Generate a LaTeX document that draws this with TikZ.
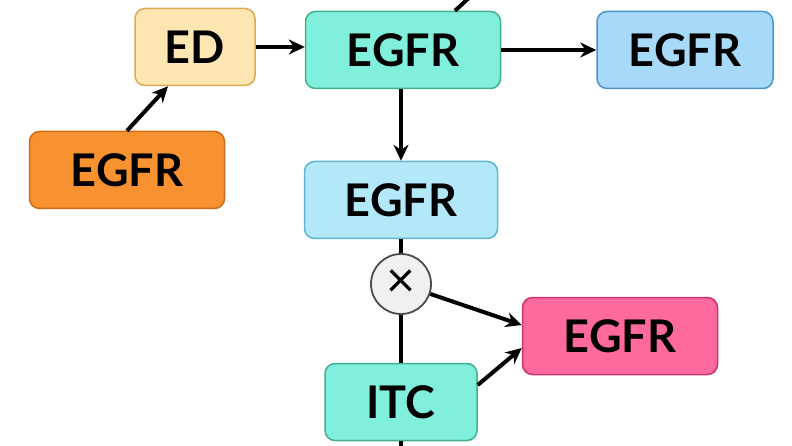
\documentclass[tikz,border=0pt]{standalone}
\usepackage{fontspec}
\setmainfont{Lato}
\usepackage{tikz}
\usetikzlibrary{calc,arrows.meta,positioning}
\definecolor{edfill}{HTML}{FDE6B2}
\definecolor{eddraw}{HTML}{E0A850}
\definecolor{orfill}{HTML}{F8912F}
\definecolor{ordraw}{HTML}{CF6A18}
\definecolor{tlfill}{HTML}{80F0DC}
\definecolor{tldraw}{HTML}{40B090}
\definecolor{blfill}{HTML}{A6DAF8}
\definecolor{bldraw}{HTML}{4C94CC}
\definecolor{lbfill}{HTML}{B2E8F8}
\definecolor{lbdraw}{HTML}{62B4D4}
\definecolor{pkfill}{HTML}{FF6A9E}
\definecolor{pkdraw}{HTML}{C63670}
\definecolor{opfill}{HTML}{F0F0F0}
\tikzset{
  ar/.style={-{Stealth[length=16pt,width=15pt]},line width=4pt,black},
  ln/.style={line width=4pt,black},
  box/.style={draw,line width=1.5pt,rounded corners=10pt,minimum height=77pt,inner sep=0pt,
    align=center,font=\bfseries\fontsize{45}{45}\selectfont},
  op/.style={circle,draw=black!70,line width=1.8pt,fill=opfill,minimum size=60pt,inner sep=0pt,
    font=\fontsize{50}{50}\selectfont}
}
\begin{document}
\begin{tikzpicture}[x=1pt,y=-1pt]
\fill[white] (0,0) rectangle (792,446);
\useasboundingbox (0,0) rectangle (792,446);
% nodes
\node[box,fill=edfill,draw=eddraw,minimum width=120pt] (ed) at (195,47) {ED};
\node[box,fill=orfill,draw=ordraw,minimum width=195pt] (src) at (127,170) {EGFR};
\node[box,fill=tlfill,draw=tldraw,minimum width=195pt] (hub) at (403,50) {EGFR};
\node[box,fill=blfill,draw=bldraw,minimum width=176pt] (out) at (685,50) {EGFR};
\node[box,fill=lbfill,draw=lbdraw,minimum width=193pt] (mid) at (401,200) {EGFR};
\node[op] (mul) at (401,284) {×};
\node[box,fill=pkfill,draw=pkdraw,minimum width=195pt] (res) at (620,336) {EGFR};
\node[box,fill=tlfill,draw=tldraw,minimum width=152pt] (itc) at (401,402) {ITC};
\coordinate (topend) at (471,-4);
\coordinate (botend) at (401,452);
% edges
\draw[ar] (src.north) -- ($(ed.south)+(-27,0)$);
\draw[ar] (ed.east) -- (ed.east -| hub.west);
\draw[ar] (hub.east) -- (out.west);
\draw[ar] (hub.south -| mid.north) -- (mid.north);
\draw[ln] (mid.south) -- (mul.north);
\draw[ln] (mul.south) -- (itc.north);
\draw[ar] (mul) -- ($(res.west)+(0,-11)$);
\draw[ar] ($(itc.east)+(0,-17)$) -- ($(res.west)+(0,12)$);
\draw[ln] (itc.south) -- (botend);
\draw[ln] ($(hub.north)+(52,0)$) -- (topend);
\end{tikzpicture}
\end{document}
